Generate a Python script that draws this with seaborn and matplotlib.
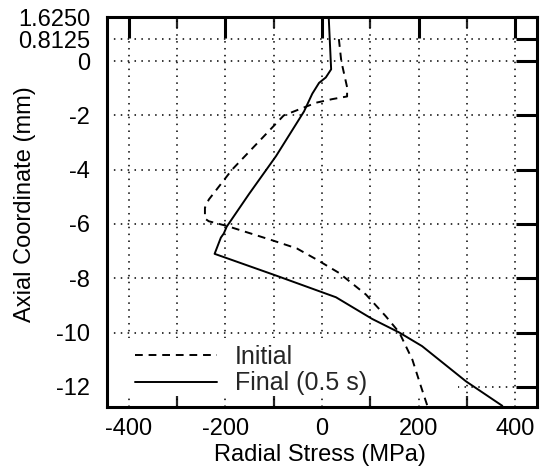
import matplotlib
matplotlib.use("Agg")
import matplotlib.pyplot as plt
from matplotlib.patches import Rectangle
import seaborn as sns
import pandas as pd

sns.set_theme(style="white")
plt.rcParams['font.family'] = ['Liberation Sans', 'DejaVu Sans']

# Initial radial stress profile (dashed)
initial_stress = [35, 40, 52, 52, 21, -12, -79, -186, -234, -242, -242, -234, -197,
                  -103, -52, -12, 35, 91, 132, 160, 187, 205, 218]
initial_z = [0.8125, 0.0, -0.96, -1.3, -1.4, -1.53, -2.0, -4.0, -5.1, -5.4, -5.8, -5.9, -6.07,
             -6.6, -6.9, -7.3, -7.8, -8.6, -9.4, -10.0, -11.0, -12.0, -12.7]

# Final radial stress profile at 0.5 s (solid)
final_stress = [14, 19, 8, -6, -20, -37, -95, -151, -197, -203, -209, -222,
                -95, 29, 104, 160, 207, 298, 373]
final_z = [1.625, -0.3, -0.6, -0.8, -1.2, -1.85, -3.5, -4.9, -6.1, -6.35, -6.5, -7.1,
           -7.9, -8.7, -9.5, -10.0, -10.5, -11.8, -12.7]

x_ticks = [-400, -200, 0, 200, 400]
x_minor = [-300, -100, 100, 300]
y_ticks = [1.625, 0.8125, 0, -2, -4, -6, -8, -10, -12]
y_labels = ["1.6250", "0.8125", "0", "-2", "-4", "-6", "-8", "-10", "-12"]

df = pd.concat([
    pd.DataFrame({"stress": initial_stress, "z": initial_z, "case": "Initial"}),
    pd.DataFrame({"stress": final_stress, "z": final_z, "case": "Final (0.5 s)"}),
])

fig = plt.figure(figsize=(5.42, 4.74), dpi=100)
ax = fig.add_axes([0.197, 0.141, 0.794, 0.823])

# dotted grid
for xv in sorted(x_ticks + x_minor):
    ax.axvline(xv, color="black", lw=1.1, ls=(0, (1, 3.5)), zorder=1)
for yv in y_ticks[1:]:
    ax.axhline(yv, color="black", lw=1.1, ls=(0, (1, 3.5)), zorder=1)

# white box behind the legend hides the grid there
ax.add_patch(Rectangle((0, 0.031), 0.816, 0.146, transform=ax.transAxes,
                       facecolor="white", edgecolor="none", zorder=2))

for case, ls in [("Initial", "--"), ("Final (0.5 s)", "-")]:
    d = df[df["case"] == case]
    kw = {"dashes": (4, 3)} if ls == "--" else {}
    ax.plot(d["stress"], d["z"], color="black", lw=1.4, ls=ls, label=case, zorder=3, **kw)

ax.set_xlim(-445, 445)
ax.set_ylim(-12.75, 1.625)
ax.set_xticks(x_ticks)
ax.set_xticklabels([str(v) for v in x_ticks])
ax.set_xticks(x_minor, minor=True)
ax.set_yticks(y_ticks)
ax.set_yticklabels(y_labels)

ax.tick_params(axis="both", which="major", direction="in", length=15, width=2.2,
               top=True, right=True, labelsize=17, color="black")
ax.tick_params(axis="x", which="major", pad=8)
ax.tick_params(axis="y", which="major", pad=12)
ax.tick_params(axis="x", which="minor", direction="in", length=8, width=1.6,
               top=True, bottom=True)
for s in ax.spines.values():
    s.set_color("black")
    s.set_linewidth(2.2)

ax.set_xlabel("Radial Stress (MPa)", fontsize=17, color="black")
ax.set_ylabel("Axial Coordinate (mm)", fontsize=17, color="black")
ax.xaxis.set_label_coords(0.495, -0.095)
ax.yaxis.set_label_coords(-0.165, 0.52)
for lab in ax.get_xticklabels() + ax.get_yticklabels():
    lab.set_color("black")

leg = ax.legend(loc="lower left", bbox_to_anchor=(0.065, 0.03), frameon=False,
                fontsize=18, handlelength=3.3, borderaxespad=0, borderpad=0,
                handletextpad=0.7, labelspacing=0.1)
leg.set_zorder(2.5)

fig.savefig("out.png", dpi=100)
